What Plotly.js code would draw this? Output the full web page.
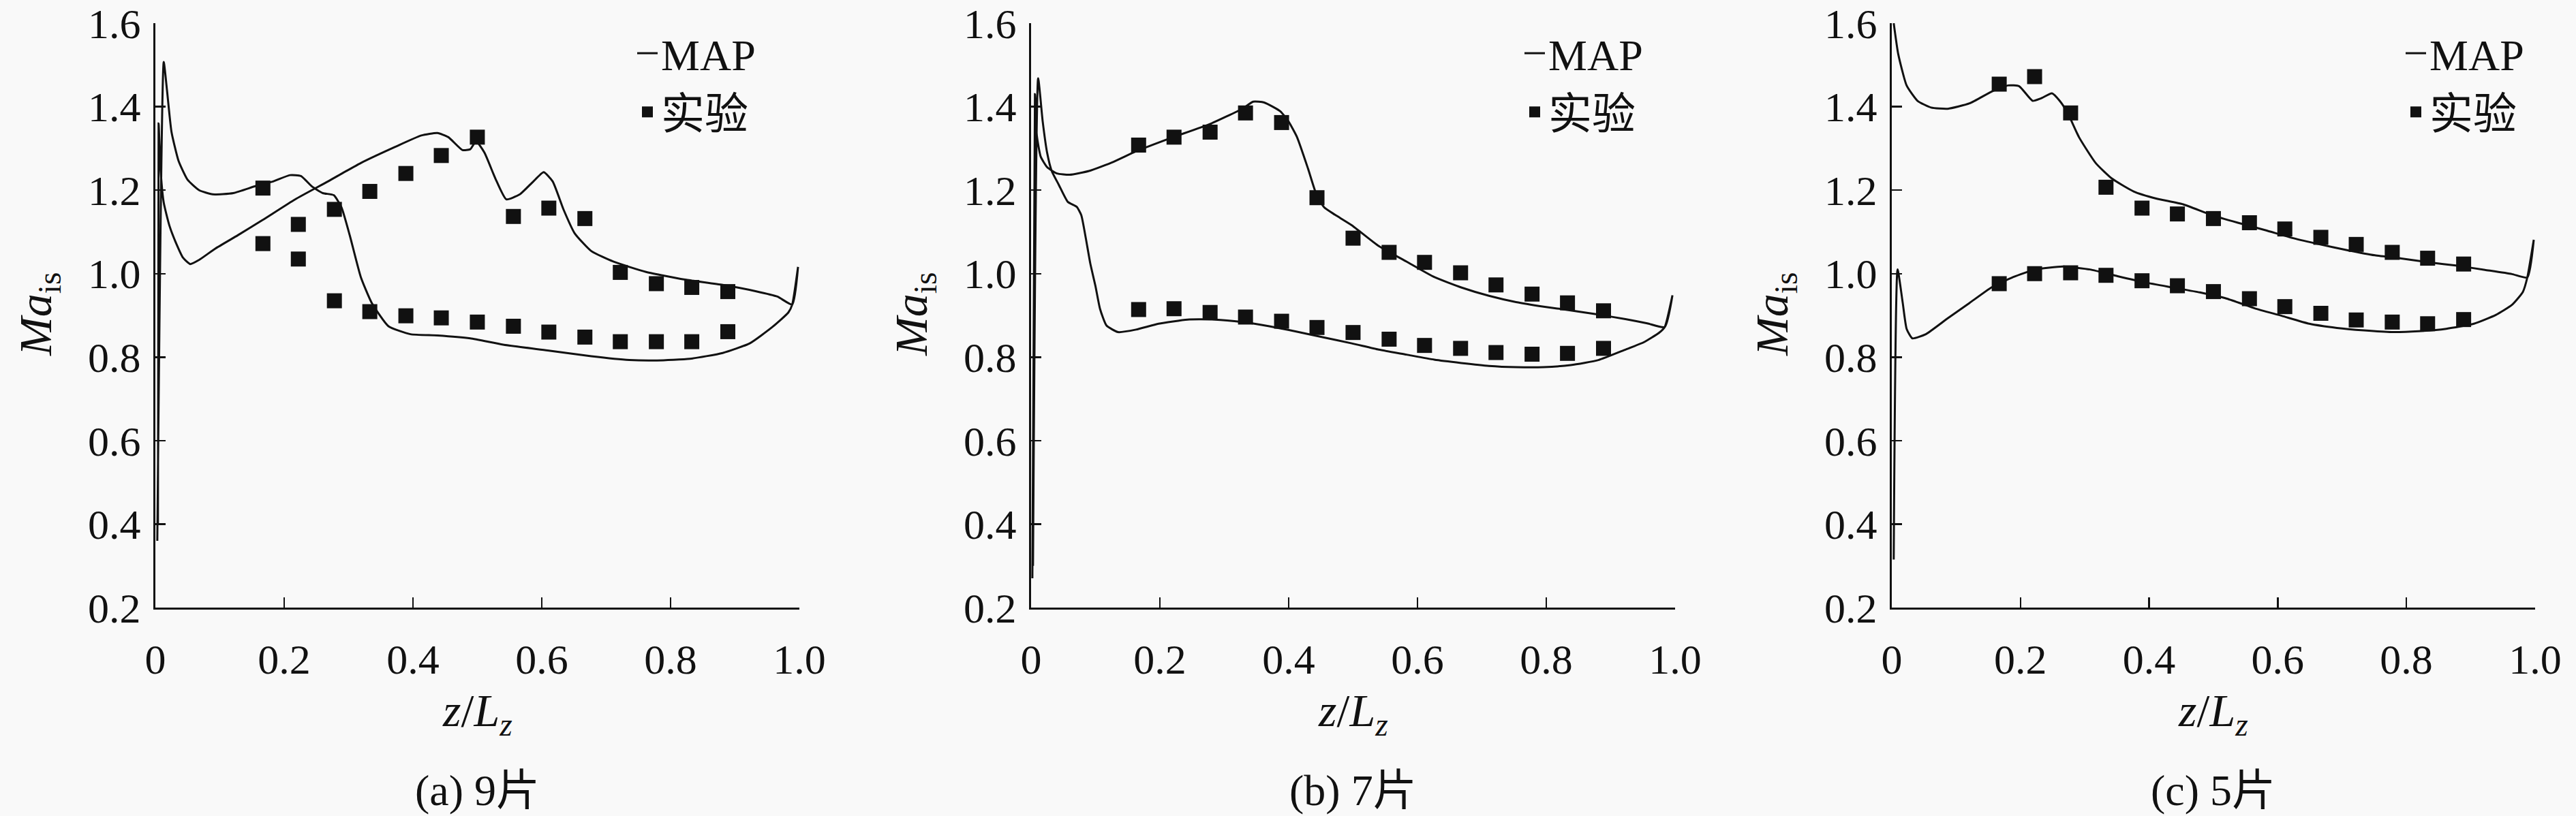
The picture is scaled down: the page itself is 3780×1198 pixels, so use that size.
<!DOCTYPE html>
<html>
<head>
<meta charset="utf-8">
<script src="https://cdn.plot.ly/plotly-3.0.1.min.js"></script>
<style>html,body{margin:0;padding:0;background:#f9f9f9;}#chart{width:3780px;height:1198px;}</style>
</head>
<body>
<div id="chart"></div>
<script>
// ---------- tick labels & texts ----------
const xTickVals = [0, 0.2, 0.4, 0.6, 0.8, 1.0];
const xTickText = ["0", "0.2", "0.4", "0.6", "0.8", "1.0"];
const yTickVals = [0.2, 0.4, 0.6, 0.8, 1.0, 1.2, 1.4, 1.6];
const yTickText = ["0.2", "0.4", "0.6", "0.8", "1.0", "1.2", "1.4", "1.6"];
const captions = ["(a) 9片", "(b) 7片", "(c) 5片"];
const seriesNames = ["MAP", "实验"];
const xTitle = "<i>z</i>/<i>L</i><sub><i>z</i></sub>";
const yTitle = "<i>Ma</i><sub>is</sub>";

// ---------- experimental points (z/Lz) ----------
const expX = [0.167, 0.222, 0.278, 0.333, 0.389, 0.444, 0.500, 0.556, 0.611, 0.667, 0.722, 0.778, 0.833, 0.889];
// (a) 9 blades
const expA1 = [1.205, 1.118, 1.154, 1.197, 1.240, 1.283, 1.327, 1.137, 1.157, 1.132, 1.003, 0.976, 0.967, 0.957];
const expA2 = [1.072, 1.035, 0.935, 0.909, 0.899, 0.894, 0.884, 0.874, 0.860, 0.848, 0.837, 0.837, 0.837, 0.861];
// (b) 7 blades
const expB1 = [1.308, 1.327, 1.339, 1.385, 1.362, 1.182, 1.085, 1.051, 1.027, 1.002, 0.973, 0.951, 0.930, 0.911];
const expB2 = [0.914, 0.916, 0.907, 0.896, 0.886, 0.871, 0.859, 0.843, 0.828, 0.821, 0.811, 0.807, 0.809, 0.821];
// (c) 5 blades
const expC1 = [1.454, 1.472, 1.385, 1.207, 1.157, 1.143, 1.132, 1.122, 1.107, 1.087, 1.070, 1.051, 1.037, 1.023];
const expC2 = [0.976, 1.000, 1.002, 0.996, 0.983, 0.971, 0.957, 0.940, 0.921, 0.905, 0.889, 0.884, 0.880, 0.890];

// ---------- MAP curves: branch 1 (ends with trailing-edge spike), branch 2 ----------
// (a)
const mapA1x = [0.003, 0.013, 0.018, 0.025, 0.036, 0.050, 0.068, 0.089, 0.121, 0.156, 0.183, 0.209, 0.226, 0.243, 0.260, 0.277, 0.289, 0.302, 0.319, 0.336, 0.362, 0.396, 0.438, 0.489, 0.540, 0.609, 0.677, 0.736, 0.779, 0.830, 0.881, 0.923, 0.958, 0.983, 0.989, 0.998];
const mapA1y = [0.36, 1.507, 1.44, 1.34, 1.27, 1.225, 1.20, 1.19, 1.193, 1.21, 1.221, 1.236, 1.234, 1.209, 1.193, 1.188, 1.159, 1.091, 0.992, 0.930, 0.874, 0.855, 0.852, 0.845, 0.830, 0.816, 0.802, 0.793, 0.792, 0.796, 0.810, 0.833, 0.872, 0.907, 0.926, 1.016];
const mapA2x = [0.004, 0.005, 0.008, 0.013, 0.022, 0.033, 0.043, 0.054, 0.068, 0.093, 0.128, 0.166, 0.217, 0.268, 0.319, 0.370, 0.413, 0.438, 0.455, 0.477, 0.489, 0.498, 0.511, 0.528, 0.545, 0.566, 0.587, 0.603, 0.617, 0.634, 0.651, 0.677, 0.711, 0.762, 0.821, 0.881, 0.932, 0.966, 0.989];
const mapA2y = [0.40, 1.36, 1.25, 1.17, 1.114, 1.07, 1.038, 1.023, 1.033, 1.06, 1.092, 1.128, 1.178, 1.221, 1.265, 1.302, 1.331, 1.337, 1.327, 1.296, 1.298, 1.317, 1.290, 1.228, 1.178, 1.190, 1.221, 1.243, 1.221, 1.153, 1.097, 1.054, 1.029, 1.004, 0.986, 0.973, 0.958, 0.945, 0.926];
// (b)
const mapB1x = [0.002, 0.006, 0.009, 0.015, 0.025, 0.040, 0.060, 0.090, 0.128, 0.163, 0.217, 0.277, 0.328, 0.345, 0.362, 0.387, 0.400, 0.413, 0.430, 0.443, 0.455, 0.472, 0.498, 0.540, 0.583, 0.626, 0.668, 0.711, 0.753, 0.796, 0.838, 0.881, 0.923, 0.957, 0.984, 0.996];
const mapB1y = [0.27, 1.43, 1.33, 1.28, 1.255, 1.24, 1.237, 1.246, 1.268, 1.293, 1.325, 1.358, 1.395, 1.412, 1.410, 1.389, 1.364, 1.327, 1.252, 1.19, 1.159, 1.141, 1.116, 1.066, 1.029, 0.992, 0.967, 0.947, 0.932, 0.921, 0.912, 0.902, 0.891, 0.881, 0.872, 0.948];
const mapB2x = [0.003, 0.011, 0.018, 0.025, 0.032, 0.043, 0.057, 0.071, 0.078, 0.085, 0.092, 0.100, 0.107, 0.117, 0.135, 0.163, 0.198, 0.243, 0.285, 0.328, 0.370, 0.413, 0.455, 0.498, 0.540, 0.583, 0.626, 0.668, 0.711, 0.753, 0.796, 0.838, 0.881, 0.923, 0.952, 0.975, 0.984];
const mapB2y = [0.30, 1.468, 1.365, 1.289, 1.246, 1.213, 1.172, 1.160, 1.140, 1.085, 1.024, 0.970, 0.916, 0.876, 0.860, 0.866, 0.880, 0.890, 0.890, 0.884, 0.874, 0.861, 0.847, 0.833, 0.818, 0.806, 0.794, 0.786, 0.779, 0.776, 0.776, 0.781, 0.793, 0.818, 0.836, 0.858, 0.872];
// (c)
const mapC1x = [0.003, 0.010, 0.023, 0.040, 0.061, 0.087, 0.121, 0.155, 0.181, 0.198, 0.219, 0.232, 0.249, 0.261, 0.274, 0.291, 0.317, 0.342, 0.376, 0.411, 0.453, 0.496, 0.538, 0.581, 0.624, 0.666, 0.709, 0.751, 0.794, 0.836, 0.879, 0.922, 0.964, 0.988, 0.998];
const mapC1y = [1.60, 1.526, 1.451, 1.414, 1.398, 1.395, 1.408, 1.436, 1.451, 1.449, 1.414, 1.420, 1.432, 1.414, 1.383, 1.327, 1.265, 1.228, 1.197, 1.180, 1.166, 1.141, 1.122, 1.104, 1.085, 1.070, 1.056, 1.044, 1.036, 1.027, 1.019, 1.009, 0.999, 0.991, 1.081];
const mapC2x = [0.003, 0.009, 0.017, 0.023, 0.032, 0.053, 0.087, 0.121, 0.155, 0.189, 0.223, 0.266, 0.308, 0.351, 0.394, 0.436, 0.479, 0.521, 0.564, 0.606, 0.649, 0.692, 0.734, 0.777, 0.819, 0.862, 0.905, 0.939, 0.964, 0.981, 0.988];
const mapC2y = [0.315, 1.010, 0.930, 0.868, 0.845, 0.855, 0.893, 0.930, 0.967, 0.992, 1.010, 1.017, 1.010, 0.994, 0.979, 0.967, 0.955, 0.940, 0.917, 0.899, 0.880, 0.870, 0.864, 0.860, 0.862, 0.868, 0.880, 0.901, 0.925, 0.956, 0.991];

// ---------- build ----------
const FONT = "Liberation Serif, Noto Sans CJK SC, serif";
const INK = "#111111";
const panels = [
  {b1x: mapA1x, b1y: mapA1y, b2x: mapA2x, b2y: mapA2y, e1: expA1, e2: expA2},
  {b1x: mapB1x, b1y: mapB1y, b2x: mapB2x, b2y: mapB2y, e1: expB1, e2: expB2},
  {b1x: mapC1x, b1y: mapC1y, b2x: mapC2x, b2y: mapC2y, e1: expC1, e2: expC2}
];
const W = 3780, H = 1198;
const xDom = [[228 / W, 1173 / W], [1513 / W, 2458 / W], [2776 / W, 3720 / W]];
const yDom = [(H - 892) / H, (H - 34) / H];
const legendLeft = [930 / W, 2232 / W, 3525 / W];
const yTitleX = [56 / W, 1341 / W, 2604 / W];

const traces = [];
const layout = {
  width: W, height: H,
  margin: {l: 0, r: 0, t: 0, b: 0},
  paper_bgcolor: "#f9f9f9", plot_bgcolor: "rgba(0,0,0,0)",
  font: {family: FONT, color: INK},
  showlegend: true,
  annotations: []
};

panels.forEach((p, i) => {
  const sfx = i === 0 ? "" : String(i + 1);
  const xa = "x" + sfx, ya = "y" + sfx;
  const lg = "legend" + sfx;
  traces.push({
    type: "scatter", mode: "lines", name: seriesNames[0],
    x: p.b1x.concat(p.b2x.slice().reverse()),
    y: p.b1y.concat(p.b2y.slice().reverse()),
    xaxis: xa, yaxis: ya, legend: lg,
    line: {color: INK, width: 3, shape: "spline", smoothing: 0.5},
    hoverinfo: "skip"
  });
  traces.push({
    type: "scatter", mode: "markers", name: seriesNames[1],
    x: expX.concat(expX), y: p.e1.concat(p.e2),
    xaxis: xa, yaxis: ya, legend: lg,
    marker: {symbol: "square", size: 22, color: INK, line: {width: 0}},
    hoverinfo: "skip"
  });
  layout["xaxis" + sfx] = {
    domain: xDom[i], anchor: ya, range: [0, 1.0001],
    tickmode: "array", tickvals: xTickVals, ticktext: xTickText,
    ticks: "inside", ticklen: 15, tickwidth: 2.5, tickcolor: INK,
    showline: true, linewidth: 3, linecolor: INK,
    showgrid: false, zeroline: false, automargin: false, fixedrange: true,
    ticklabeloverflow: "allow",
    tickfont: {family: FONT, size: 62, color: INK},
    ticklabelstandoff: 20
  };
  layout["yaxis" + sfx] = {
    domain: yDom, anchor: xa, range: [0.2, 1.6001],
    tickmode: "array", tickvals: yTickVals, ticktext: yTickText,
    ticks: "inside", ticklen: 15, tickwidth: 2.5, tickcolor: INK,
    showline: true, linewidth: 3, linecolor: INK,
    showgrid: false, zeroline: false, automargin: false, fixedrange: true,
    ticklabeloverflow: "allow",
    tickfont: {family: FONT, size: 62, color: INK},
    ticklabelstandoff: 6
  };
  layout[lg] = {
    x: legendLeft[i], xanchor: "left", y: 1 - 30 / H, yanchor: "top",
    bgcolor: "rgba(0,0,0,0)", borderwidth: 0,
    font: {family: FONT, size: 64, color: INK},
    tracegroupgap: 0
  };
  const cx = (xDom[i][0] + xDom[i][1]) / 2;
  layout.annotations.push({
    xref: "paper", yref: "paper", x: cx, y: (H - 1047) / H,
    xanchor: "center", yanchor: "middle", showarrow: false,
    text: xTitle, font: {family: FONT, size: 68, color: INK}
  });
  layout.annotations.push({
    xref: "paper", yref: "paper", x: yTitleX[i], y: (H - 462) / H,
    xanchor: "center", yanchor: "middle", showarrow: false, textangle: -90,
    text: yTitle, font: {family: FONT, size: 68, color: INK}
  });
  layout.annotations.push({
    xref: "paper", yref: "paper", x: cx, y: (H - 1160) / H,
    xanchor: "center", yanchor: "middle", showarrow: false,
    text: captions[i], font: {family: FONT, size: 64, color: INK}
  });
});

Plotly.newPlot("chart", traces, layout, {staticPlot: true, displayModeBar: false});
</script>
</body>
</html>
